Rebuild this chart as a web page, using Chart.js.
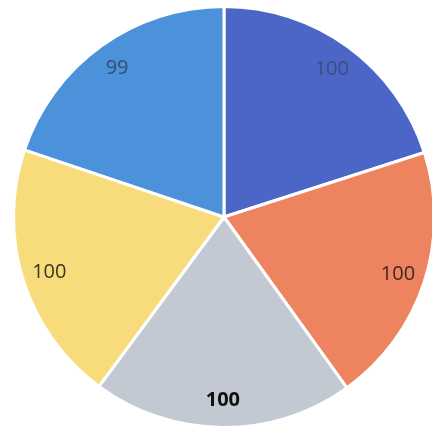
<!DOCTYPE html>
<html>
<head>
<meta charset="utf-8">
<script src="https://cdn.jsdelivr.net/npm/chart.js@4/dist/chart.umd.min.js"></script>
<style>
  html, body { margin: 0; padding: 0; background: #fff; overflow: hidden; }
  .wrap { position: relative; width: 432px; height: 434px; overflow: hidden; }
  .wrap canvas { position: absolute; left: 0; top: 0; }
</style>
</head>
<body>
<div class="wrap">
  <canvas id="pie" width="436" height="434" style="width:436px;height:434px"></canvas>
</div>
<script>
// slices clockwise from 12 o'clock
const categories = ['A', 'B', 'C', 'D', 'E'];
const values = [100, 100, 100, 100, 99];

const sliceColors = ['#4b66c6', '#ee8360', '#c2c9d2', '#f8dc7c', '#4c92da'];
const labelColors = ['#3b4f7a', '#3a2a22', '#111111', '#3a3520', '#34506e'];

// draws the value inside each slice
const sliceLabels = {
  id: 'sliceLabels',
  afterDatasetsDraw(chart) {
    const ctx = chart.ctx;
    const meta = chart.getDatasetMeta(0);
    ctx.save();
    ctx.textAlign = 'center';
    ctx.textBaseline = 'middle';
    meta.data.forEach((arc, i) => {
      const p = arc.getProps(['x', 'y', 'startAngle', 'endAngle', 'outerRadius'], true);
      const mid = (p.startAngle + p.endAngle) / 2;
      const r = p.outerRadius * 0.87;
      ctx.font = (i === 2 ? 'bold ' : '') + '20px "Open Sans", "Liberation Sans", sans-serif';
      ctx.fillStyle = labelColors[i];
      ctx.fillText(String(values[i]), p.x + Math.cos(mid) * r, p.y + Math.sin(mid) * r);
    });
    ctx.restore();
  }
};

new Chart(document.getElementById('pie').getContext('2d'), {
  type: 'pie',
  data: {
    labels: categories,
    datasets: [{
      data: values,
      backgroundColor: sliceColors,
      borderColor: '#ffffff',
      borderWidth: 3
    }]
  },
  options: {
    responsive: false,
    animation: false,
    layout: { padding: { left: 12, right: 0, top: 5, bottom: 5 } },
    plugins: {
      legend: { display: false },
      tooltip: { enabled: false }
    }
  },
  plugins: [sliceLabels]
});
</script>
</body>
</html>
